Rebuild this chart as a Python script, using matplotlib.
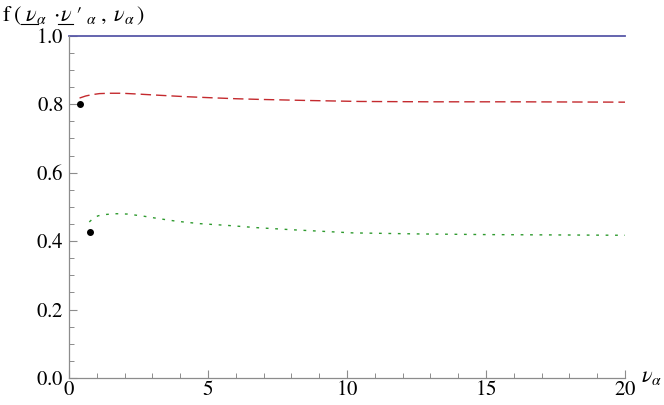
#f(v.v', v) versus v_alpha, three cases
import matplotlib
matplotlib.use("Agg")
import matplotlib.pyplot as plt
from matplotlib.ticker import MultipleLocator, FormatStrFormatter
from matplotlib.lines import Line2D

plt.rcParams['font.family'] = ['Liberation Serif', 'DejaVu Serif']
plt.rcParams['mathtext.fontset'] = 'stix'

#data
blue_x = [0.0, 20.0]
blue_y = [1.0, 1.0]

red_x = [0.38, 0.6, 0.83, 1.1, 1.47, 1.9, 2.4, 3.27, 4.2, 5.07, 6.0, 6.87, 8.5, 10.47, 13.0, 16.0, 20.0]
red_y = [0.818, 0.824, 0.828, 0.831, 0.832, 0.832, 0.830, 0.826, 0.822, 0.819, 0.816, 0.814, 0.811, 0.808, 0.807, 0.807, 0.806]

green_x = [0.73, 0.88, 1.05, 1.35, 1.71, 2.1, 2.67, 3.2, 3.87, 4.7, 5.67, 6.8, 8.06, 10.2, 12.5, 15.0, 17.5, 20.0]
green_y = [0.456, 0.467, 0.474, 0.478, 0.480, 0.479, 0.473, 0.466, 0.458, 0.451, 0.446, 0.439, 0.433, 0.424, 0.421, 0.419, 0.418, 0.417]

dot_x = [0.40, 0.77]
dot_y = [0.80, 0.428]

fig = plt.figure(figsize=(6.64, 4.05), dpi=100)
ax = fig.add_axes([0.1039, 0.0667, 0.8375, 0.845])

ax.plot(blue_x, blue_y, color='#5858a8', lw=1.3, clip_on=False)
ax.plot(red_x, red_y, color='#c42a2e', lw=1.0, dashes=(7.5, 3.6))
ax.plot(green_x, green_y, color='#2e9a2e', lw=1.0, dashes=(2.0, 4.8))
ax.plot(dot_x, dot_y, 'o', color='black', ms=4.0, clip_on=False)

ax.set_xlim(0, 20)
ax.set_ylim(0, 1.0)

ax.spines['top'].set_visible(False)
ax.spines['right'].set_visible(False)
for s in ['left', 'bottom']:
    ax.spines[s].set_color('#8c8c8c')
    ax.spines[s].set_linewidth(0.9)

ax.xaxis.set_major_locator(MultipleLocator(5))
ax.xaxis.set_minor_locator(MultipleLocator(1))
ax.yaxis.set_major_locator(MultipleLocator(0.2))
ax.yaxis.set_minor_locator(MultipleLocator(0.05))
ax.xaxis.set_major_formatter(FormatStrFormatter(r'$\mathrm{%d}$'))
ax.yaxis.set_major_formatter(FormatStrFormatter(r'$\mathrm{%.1f}$'))

ax.tick_params(which='major', direction='in', length=6, width=0.8, color='#8c8c8c',
               labelsize=15, labelcolor='black')
ax.tick_params(which='minor', direction='in', length=3.5, width=0.7, color='#8c8c8c')
ax.tick_params(axis='x', pad=2)
ax.tick_params(axis='y', pad=4)

#y label, with the two underlined nu's
LBL_X, LBL_Y, LBL_FS = 0.003, 0.947, 16
head = r'\mathrm{f}\;(\;'
nu1 = r'\nu_{\alpha}\;\cdot\!'
label = '$' + head + nu1 + r'\nu\;\prime\;{}_{\alpha}\;,\;\nu_{\alpha}\,)$'
fig.text(LBL_X, LBL_Y, label, fontsize=LBL_FS, ha='left', va='baseline')

renderer = fig.canvas.get_renderer()
def prefix_width(s):
    t = fig.text(LBL_X, LBL_Y, s, fontsize=LBL_FS, ha='left', va='baseline')
    w = t.get_window_extent(renderer).width
    t.remove()
    return w

x0 = LBL_X * fig.bbox.width
ybase = LBL_Y * fig.bbox.height - 3
for pre in [head, head + nu1]:
    a = x0 + prefix_width('$' + pre + r'\mathrm{\ }$') - prefix_width(r'$\mathrm{\ }$')
    b = x0 + prefix_width('$' + pre + r'\nu$')
    fig.add_artist(Line2D([a / fig.bbox.width, b / fig.bbox.width],
                          [ybase / fig.bbox.height] * 2,
                          transform=fig.transFigure, color='black', lw=0.8))

fig.text(0.965, 0.068, r'$\nu_{\alpha}$', fontsize=16, ha='left', va='center')

fig.savefig('out.png', dpi=100)
